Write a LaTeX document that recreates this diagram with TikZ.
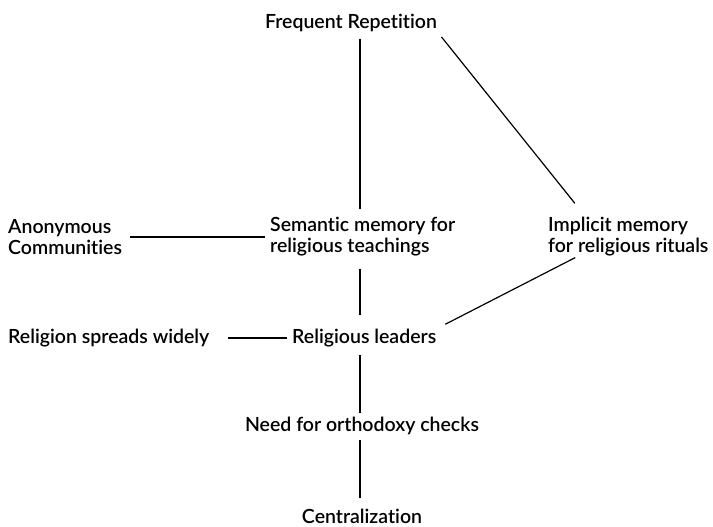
\documentclass[tikz,border=0pt]{standalone}
\usepackage{fontspec}
\setmainfont{Lato}[UprightFont={* Semibold},Ligatures=NoCommon]

\begin{document}
\begin{tikzpicture}[x=1pt,y=-1pt,
    txt/.style={font=\fontsize{19.5}{21}\selectfont,align=left,inner sep=0pt},
    link/.style={line width=1.2pt}]
  \useasboundingbox (0,0) rectangle (713,527);
  \coordinate (axis) at (360,0);
  \node[txt] (freq) at (351,22.5) {Frequent Repetition};
  \node[txt,anchor=west] (anon) at (8,237) {Anonymous\\Communities};
  \node[txt,anchor=west] (sem) at (270,237) {Semantic memory for\\religious teachings};
  \node[txt,anchor=west] (impl) at (548,237) {Implicit memory\\for religious rituals};
  \node[txt,anchor=west] (spread) at (8,338) {Religion spreads widely};
  \node[txt,anchor=west] (lead) at (292,338) {Religious leaders};
  \node[txt] (need) at (362,426) {Need for orthodoxy checks};
  \node[txt] (cent) at (362,516) {Centralization};
  \draw[link,shorten <=7pt,shorten >=8pt] (freq.south -| axis) -- (sem.north -| axis);
  \draw[link,shorten <=7pt,shorten >=18pt] (freq.south east) -- (impl.155);
  \draw[link,shorten <=8pt,shorten >=5pt] (anon.east) -- (anon.east -| sem.west);
  \draw[link,shorten <=12pt,shorten >=14pt] (sem.south -| axis) -- (lead.north -| axis);
  \draw[link,shorten <=2pt,shorten >=10pt] (impl.201) -- (lead.north east);
  \draw[link,shorten <=18pt,shorten >=5pt] (spread.east) -- (lead.west);
  \draw[link,shorten <=8pt,shorten >=4pt] (lead.south -| axis) -- (need.north -| axis);
  \draw[link,shorten <=5pt,shorten >=11pt] (need.south -| axis) -- (cent.north -| axis);
\end{tikzpicture}
\end{document}
